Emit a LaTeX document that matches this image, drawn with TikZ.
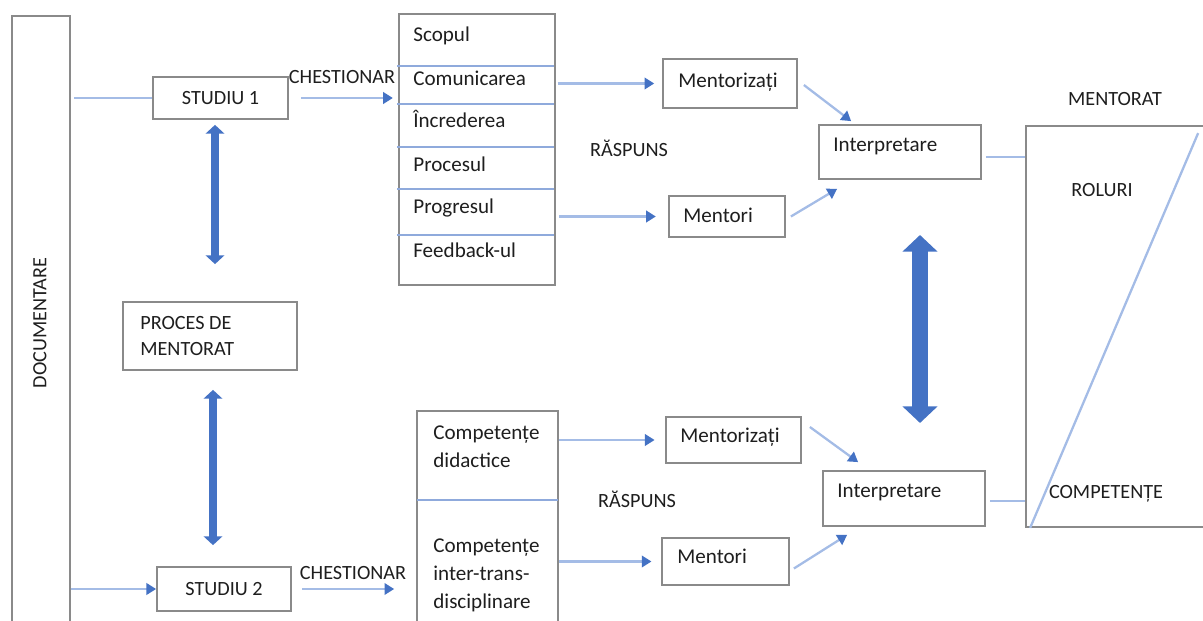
\documentclass[tikz,border=0pt]{standalone}
\usepackage{fontspec}
\setmainfont{Carlito}
\usetikzlibrary{arrows.meta,calc}
\definecolor{boxgray}{HTML}{8A8A8A}
\definecolor{linkblue}{HTML}{A4BCE6}
\definecolor{rowblue}{HTML}{8FAADC}
\definecolor{tipblue}{HTML}{4472C4}
\definecolor{ink}{HTML}{1E1E1E}
\begin{document}
\begin{tikzpicture}[x=0.02cm, y=-0.02cm,
    every node/.style={text=ink, inner sep=0pt},
    box/.style 2 args={draw=boxgray, line width=1pt, minimum width=#1*0.02cm, minimum height=#2*0.02cm},
    txt/.style={anchor=west, font=\fontsize{12}{16}\selectfont, text height=8.5pt, text depth=2.5pt},
    caps/.style={font=\fontsize{11.5}{15.3}\selectfont},
    rule/.style={draw=rowblue, line width=0.8pt},
    plainlink/.style={draw=linkblue, line width=1.3pt},
    link/.style={plainlink, -{Triangle[width=6.5pt,length=5.5pt,color=tipblue]}},
    dbl/.style={draw=tipblue, line width=4pt, {Triangle[width=10.5pt,length=5pt]}-{Triangle[width=10.5pt,length=5pt]}},
    bigdbl/.style={draw=tipblue, line width=9.6pt, {Triangle[width=19.5pt,length=9.5pt]}-{Triangle[width=19.5pt,length=9.5pt]}}]
    \useasboundingbox (0,0) rectangle (1203,621);
    \clip (0,0) rectangle (1203,621);
    \node[box={58}{624}] (doc) at (41,328) {};
    \node[caps, rotate=90] (doclbl) at (40,323) {DOCUMENTARE};
    \node[box={135}{42}, caps] (studiu1) at (220.5,98) {STUDIU 1};
    \node[box={174}{68}] (proces) at (210,336) {};
    \node[caps, anchor=west, align=left] (proceslbl) at (140,336) {PROCES DE\\MENTORAT};
    \node[box={134}{44}, caps] (studiu2) at (224,589) {STUDIU 2};
    \node[caps] (chest1) at (342,77) {CHESTIONAR};
    \node[caps] (chest2) at (353,573) {CHESTIONAR};
    \node[box={156}{271}] (tab1) at (477,149.5) {};
    \foreach \y in {66,104,147,189,235}
        \draw[rule] (397,\y) -- (554,\y);
    \node[txt] (scopul) at (413,36) {Scopul};
    \node[txt] (comunicarea) at (413,80) {Comunicarea};
    \node[txt] (increderea) at (413,122) {Încrederea};
    \node[txt] (procesul) at (413,166) {Procesul};
    \node[txt] (progresul) at (413,208) {Progresul};
    \node[txt] (feedback) at (413,252) {Feedback-ul};
    \node[box={141}{229}] (tab2) at (487.5,525.5) {};
    \draw[rule] (417,500) -- (558,500);
    \node[txt, anchor=west, align=left, text height=, text depth=] (didactice) at (433,447) {Competențe\\didactice};
    \node[txt, anchor=west, align=left, text height=, text depth=] (inter) at (433,575.5) {Competențe\\inter-trans-\\disciplinare};
    \node[box={134}{49}] (ment1) at (730,83.5) {};
    \node[txt] (ment1lbl) at (678,82) {Mentorizați};
    \node[box={116}{41}] (mentori1) at (727,216.5) {};
    \node[txt] (mentori1lbl) at (683,217) {Mentori};
    \node[box={135}{46}] (ment2) at (733.5,440) {};
    \node[txt] (ment2lbl) at (680,437) {Mentorizați};
    \node[box={127}{47}] (mentori2) at (725.5,561.5) {};
    \node[txt] (mentori2lbl) at (677,558) {Mentori};
    \node[caps] (raspuns1) at (629,148) {RĂSPUNS};
    \node[caps] (raspuns2) at (637,499) {RĂSPUNS};
    \node[box={162}{54}] (interp1) at (900,152) {};
    \node[txt] (interp1lbl) at (833,146) {Interpretare};
    \node[box={162}{55}] (interp2) at (904,498.5) {};
    \node[txt] (interp2lbl) at (837,492) {Interpretare};
    \node[box={189}{401}] (big) at (1120.5,326.5) {};
    \node[caps] (mentorat) at (1115,99) {MENTORAT};
    \node[caps] (roluri) at (1102,190) {ROLURI};
    \node[caps] (competente) at (1106,494) {COMPETENȚE};
    \draw[plainlink] ($(big.south west)+(5,0)$) -- ($(big.north west)+(173,8)$);
    \draw[plainlink, shorten <=2pt] (doc.east |- studiu1) -- (studiu1);
    \draw[link] (doc.east |- studiu2) -- (studiu2);
    \draw[link, shorten <=6.8pt, shorten >=3pt] (studiu1.east) -- (studiu1.east -| tab1.west);
    \draw[link, shorten <=6pt, shorten >=12.5pt] (studiu2.east) -- (studiu2.east -| tab2.west);
    \draw[link, shorten <=1pt, shorten >=4.5pt] (tab1.east |- ment1) -- (ment1);
    \draw[link, shorten <=2pt, shorten >=7pt, line width=2pt] (tab1.east |- mentori1) -- (mentori1);
    \draw[link, shorten >=6pt] (tab2.east |- ment2) -- (ment2);
    \draw[link, shorten >=5.5pt] (tab2.east |- mentori2) -- (mentori2);
    \draw[link] ($(ment1.east)+(6,1.5)$) -- ($(interp1.north west)+(33,-3)$);
    \draw[link] ($(mentori1.east)+(5,0)$) -- ($(interp1.south west)+(19,9)$);
    \draw[link] ($(ment2.east)+(8,-13)$) -- ($(interp2.north west)+(36,-8)$);
    \draw[link] ($(mentori2.east)+(4,7)$) -- ($(interp2.south west)+(25,8)$);
    \coordinate (r1) at ($(interp1.east)+(4,5)$);
    \coordinate (r2) at ($(interp2.east)+(4,2.5)$);
    \draw[plainlink] (r1) -- (r1 -| big.west);
    \draw[plainlink] (r2) -- (r2 -| big.west);
    \draw[dbl] ($(studiu1.south)+(-5.5,5)$) -- ($(proces.north)+(5,-37)$);
    \draw[dbl] ($(proces.south)+(3,19)$) -- ($(studiu2.north)+(-11,-21)$);
    \coordinate (bigtop) at (920,235);
    \coordinate (bigbot) at (920,423);
    \draw[bigdbl] (bigtop) -- (bigbot);
\end{tikzpicture}
\end{document}
